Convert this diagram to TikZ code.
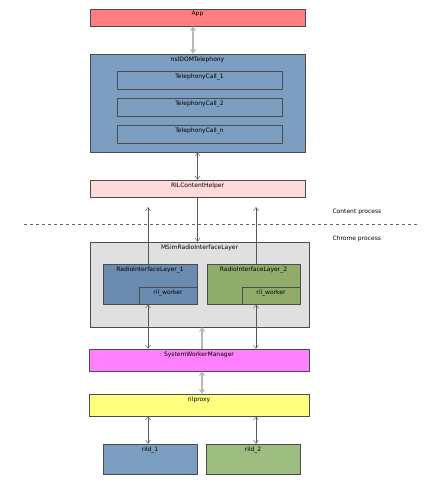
\documentclass[tikz,border=0pt]{standalone}
\usepackage{xcolor}
\usepackage{fontspec}
\usepackage{tikz}
\usetikzlibrary{arrows.meta}
\setmainfont{DejaVu Sans}
\definecolor{app-red}{RGB}{255, 127, 127}
\definecolor{dom-blue}{RGB}{124, 158, 192}
\definecolor{ril-blue}{RGB}{106, 140, 176}
\definecolor{ril-green}{RGB}{143, 172, 106}
\definecolor{rild-green}{RGB}{157, 190, 128}
\definecolor{helper-pink}{RGB}{255, 218, 218}
\definecolor{layer-grey}{RGB}{224, 224, 224}
\definecolor{swm-magenta}{RGB}{255, 127, 255}
\definecolor{proxy-yellow}{RGB}{255, 255, 127}

\begin{document}
\begin{tikzpicture}[x=1pt, y=-1pt,
    font=\fontsize{6}{7}\selectfont,
    >={Straight Barb[length=3.5pt, width=5pt]},
    box/.style={draw=black!70, rectangle, inner sep=0pt, text height=0pt, text depth=0pt},
    title/.style={label={[anchor=north, inner sep=2pt, yshift=-0.5pt]north:#1}},
    link/.style={black!65, line width=0.45pt},
    wide/.style={gray!55, line width=1.1pt}]
    \useasboundingbox (0,0) rectangle (435,484);

    \node[box, minimum width=215pt, minimum height=17pt, fill=app-red, title=App] (app) at (197.5,17.5) {};
    \node[box, minimum width=215pt, minimum height=98pt, fill=dom-blue, title=nsIDOMTelephony] (tel) at (197.5,103) {};
    \node[box, minimum width=165pt, minimum height=18pt, title=TelephonyCall\_1] (call1) at (199.5,80) {};
    \node[box, minimum width=165pt, minimum height=18pt, title=TelephonyCall\_2] (call2) at (199.5,107) {};
    \node[box, minimum width=165pt, minimum height=18pt, title=TelephonyCall\_n] (calln) at (199.5,134) {};
    \node[box, minimum width=215pt, minimum height=17pt, fill=helper-pink, title=RILContentHelper] (helper) at (197.5,188.5) {};

    \node[box, minimum width=219pt, minimum height=85pt, fill=layer-grey, title=MSimRadioInterfaceLayer] (msim) at (199.5,284.5) {};
    \node[box, minimum width=94pt, minimum height=40pt, fill=ril-blue, title=RadioInterfaceLayer\_1] (ril1) at (150,284) {};
    \node[box, minimum width=58pt, minimum height=17pt, title=ril\_worker] (worker1) at (168,295.5) {};
    \node[box, minimum width=93pt, minimum height=40pt, fill=ril-green, title=RadioInterfaceLayer\_2] (ril2) at (253.5,284) {};
    \node[box, minimum width=58pt, minimum height=17pt, title=ril\_worker] (worker2) at (271,295.5) {};

    \node[box, minimum width=220pt, minimum height=22pt, fill=swm-magenta, title=SystemWorkerManager] (swm) at (199,360) {};
    \node[box, minimum width=220pt, minimum height=22pt, fill=proxy-yellow, title=rilproxy] (proxy) at (199,405) {};
    \node[box, minimum width=94pt, minimum height=30pt, fill=dom-blue, title=rild\_1] (rild1) at (150,459) {};
    \node[box, minimum width=94pt, minimum height=30pt, fill=rild-green, title=rild\_2] (rild2) at (253,459) {};

    % process boundary
    \coordinate (sepL) at (24,224);
    \coordinate (sepR) at (417,224);
    \draw[dashed, black!60, line width=0.45pt] (sepL) -- (sepR);
    \node[anchor=west] (content) at (329,212) {Content process};
    \node[anchor=west] (chrome) at (329,238.5) {Chrome process};

    \coordinate (up1) at (148,207);
    \coordinate (up2) at (256,207);

    \draw[<->, wide] ([xshift=-4.5pt]app.south) -- ([xshift=-4.5pt]tel.north);
    \draw[<->, link] (tel.south) -- (helper.north);
    \draw[->, link] (helper.south) -- (helper.south |- msim.north);
    \draw[->, link] (up1 |- ril1.north) -- (up1);
    \draw[->, link] (up2 |- ril2.north) -- (up2);
    \draw[<->, link] (up1 |- worker1.south) -- (up1 |- swm.north);
    \draw[<->, link] (up2 |- worker2.south) -- (up2 |- swm.north);
    \draw[->, wide] ([xshift=3pt]swm.north) -- ([xshift=3pt]swm.north |- msim.south);
    \draw[<->, wide] ([xshift=3pt]swm.south) -- ([xshift=3pt]proxy.north);
    \draw[<->, link] (up1 |- proxy.south) -- (up1 |- rild1.north);
    \draw[<->, link] (up2 |- proxy.south) -- (up2 |- rild2.north);
\end{tikzpicture}
\end{document}
